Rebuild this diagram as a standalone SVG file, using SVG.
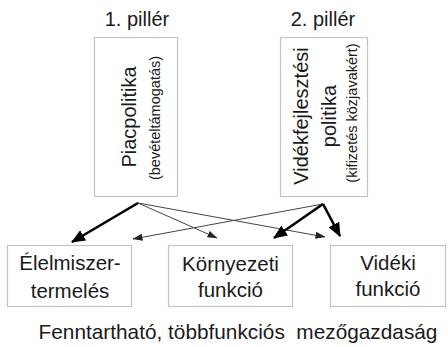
<svg xmlns="http://www.w3.org/2000/svg" width="448" height="347" viewBox="0 0 448 347">
<style>
text{font-family:"Liberation Sans",Arial,sans-serif;fill:#1a1a1a}
.box{fill:#fff;stroke:#c4c4c4;stroke-width:1.2}
.t{font-size:20px;text-anchor:middle}
.b{font-size:20.5px;text-anchor:middle}
.f{font-size:20.8px;text-anchor:middle}
.s{font-size:14.5px;text-anchor:middle}
.thick{stroke:#000;stroke-width:2.6;fill:none}
.thin{stroke:#444;stroke-width:1;fill:none}
</style>
<defs>
<marker id="hk" markerUnits="userSpaceOnUse" markerWidth="14" markerHeight="12" refX="13" refY="6" orient="auto"><path d="M0,0 L14,6 L0,12 Z" fill="#000"/></marker>
<marker id="hn" markerUnits="userSpaceOnUse" markerWidth="10" markerHeight="8" refX="9.5" refY="4" orient="auto"><path d="M0,0.5 L10,4 L0,7.5 Z" fill="#222"/></marker>
</defs>
<rect width="448" height="347" fill="#fff"/>
<g id="title1"><text class="t" x="137" y="26">1. pillér</text></g>
<g id="title2"><text class="t" x="323" y="26">2. pillér</text></g>
<g id="piacpolitika">
<rect class="box" x="94.5" y="37.5" width="83" height="159"/>
<text class="t" transform="translate(136,117) rotate(-90)">Piacpolitika</text>
<text class="s" transform="translate(160,118) rotate(-90)">(bevételtámogatás)</text>
</g>
<g id="videkfejlesztes">
<rect class="box" x="280.5" y="37.5" width="87" height="159"/>
<text class="t" transform="translate(308,116) rotate(-90)">Vidékfejlesztési</text>
<text class="t" transform="translate(336,116) rotate(-90)">politika</text>
<text class="s" transform="translate(357,113) rotate(-90)">(kifizetés közjavakért)</text>
</g>
<g id="elelmiszer">
<rect class="box" x="7.5" y="245.5" width="124" height="61"/>
<text class="b" x="70" y="270">Élelmiszer-</text>
<text class="b" x="70" y="298">termelés</text>
</g>
<g id="kornyezeti">
<rect class="box" x="168.5" y="245.5" width="124" height="61"/>
<text class="b" x="230.5" y="271">Környezeti</text>
<text class="b" x="230.5" y="297">funkció</text>
</g>
<g id="videki">
<rect class="box" x="330.5" y="245.5" width="115" height="61"/>
<text class="b" x="388" y="270">Vidéki</text>
<text class="b" x="388" y="296">funkció</text>
</g>
<g id="connectors">
<line class="thick" x1="138" y1="203" x2="72" y2="242" marker-end="url(#hk)"/>
<line class="thin" x1="138" y1="203" x2="217" y2="238" marker-end="url(#hn)"/>
<line class="thin" x1="138" y1="203" x2="325" y2="237" marker-end="url(#hn)"/>
<line class="thin" x1="323" y1="204" x2="133" y2="239" marker-end="url(#hn)"/>
<line class="thick" x1="323" y1="204" x2="274" y2="238" marker-end="url(#hk)"/>
<line class="thick" x1="323" y1="204" x2="340" y2="236" marker-end="url(#hk)"/>
</g>
<g id="footer"><text class="f" x="238" y="339" xml:space="preserve">Fenntartható, többfunkciós  mezőgazdaság</text></g>
</svg>
